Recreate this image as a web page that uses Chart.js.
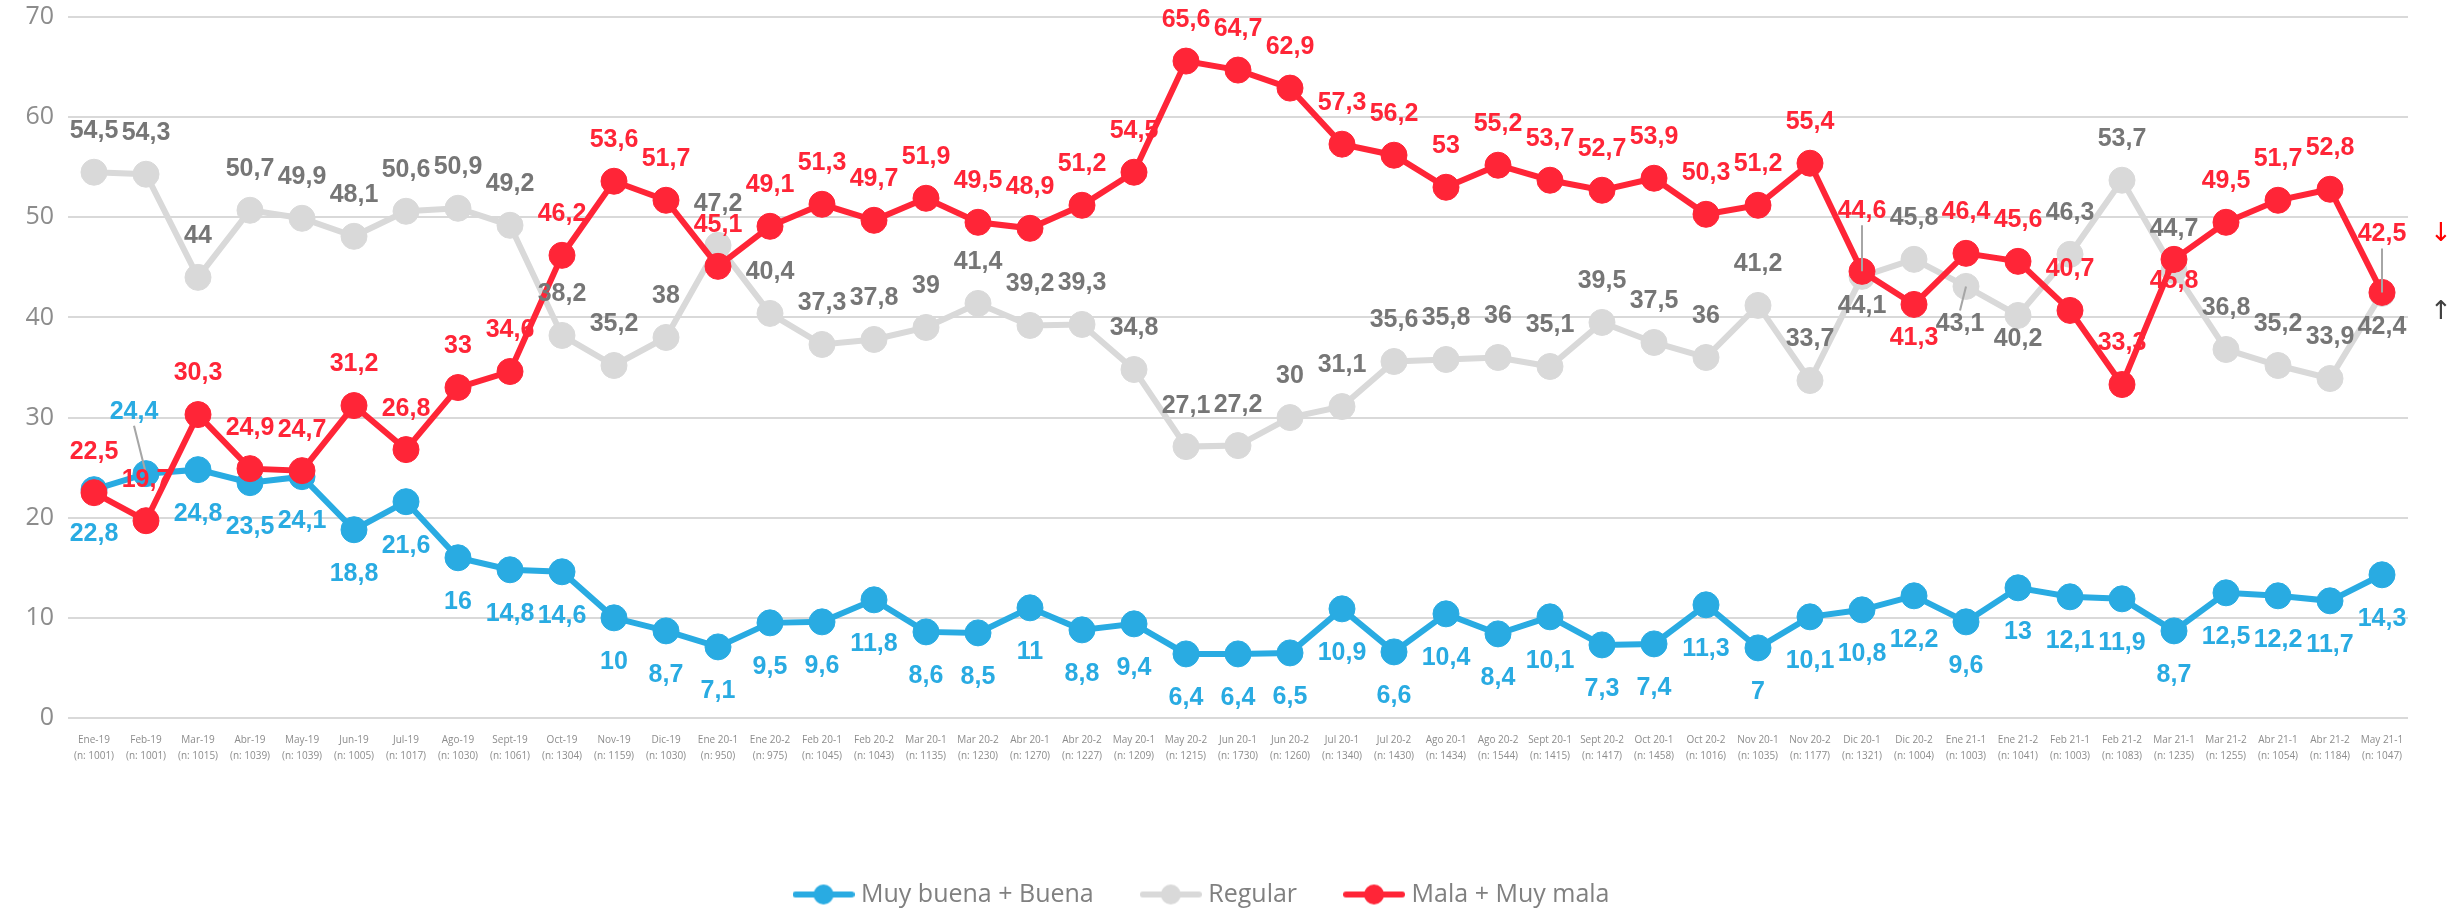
<!DOCTYPE html>
<html>
<head>
<meta charset="utf-8">
<script src="https://cdn.jsdelivr.net/npm/chart.js@4.4.1/dist/chart.umd.min.js"></script>
<style>
  html, body { margin: 0; padding: 0; background: #fff; }
  #wrap { width: 2458px; height: 909px; position: relative; }
</style>
</head>
<body>
<div id="wrap"><canvas id="chart"></canvas></div>
<script>
var months = ['Ene-19', 'Feb-19', 'Mar-19', 'Abr-19', 'May-19', 'Jun-19', 'Jul-19', 'Ago-19', 'Sept-19', 'Oct-19',
  'Nov-19', 'Dic-19', 'Ene 20-1', 'Ene 20-2', 'Feb 20-1', 'Feb 20-2', 'Mar 20-1', 'Mar 20-2', 'Abr 20-1', 'Abr 20-2',
  'May 20-1', 'May 20-2', 'Jun 20-1', 'Jun 20-2', 'Jul 20-1', 'Jul 20-2', 'Ago 20-1', 'Ago 20-2', 'Sept 20-1', 'Sept 20-2',
  'Oct 20-1', 'Oct 20-2', 'Nov 20-1', 'Nov 20-2', 'Dic 20-1', 'Dic 20-2', 'Ene 21-1', 'Ene 21-2', 'Feb 21-1', 'Feb 21-2',
  'Mar 21-1', 'Mar 21-2', 'Abr 21-1', 'Abr 21-2', 'May 21-1'];
var samples = [1001, 1001, 1015, 1039, 1039, 1005, 1017, 1030, 1061, 1304,
  1159, 1030, 950, 975, 1045, 1043, 1135, 1230, 1270, 1227,
  1209, 1215, 1730, 1260, 1340, 1430, 1434, 1544, 1415, 1417,
  1458, 1016, 1035, 1177, 1321, 1004, 1003, 1041, 1003, 1083,
  1235, 1255, 1054, 1184, 1047];

var buenaValues = [22.8, 24.4, 24.8, 23.5, 24.1, 18.8, 21.6, 16, 14.8, 14.6,
  10, 8.7, 7.1, 9.5, 9.6, 11.8, 8.6, 8.5, 11, 8.8,
  9.4, 6.4, 6.4, 6.5, 10.9, 6.6, 10.4, 8.4, 10.1, 7.3,
  7.4, 11.3, 7, 10.1, 10.8, 12.2, 9.6, 13, 12.1, 11.9,
  8.7, 12.5, 12.2, 11.7, 14.3];
var regularValues = [54.5, 54.3, 44, 50.7, 49.9, 48.1, 50.6, 50.9, 49.2, 38.2,
  35.2, 38, 47.2, 40.4, 37.3, 37.8, 39, 41.4, 39.2, 39.3,
  34.8, 27.1, 27.2, 30, 31.1, 35.6, 35.8, 36, 35.1, 39.5,
  37.5, 36, 41.2, 33.7, 44.1, 45.8, 43.1, 40.2, 46.3, 53.7,
  44.7, 36.8, 35.2, 33.9, 42.4];
var malaValues = [22.5, 19.7, 30.3, 24.9, 24.7, 31.2, 26.8, 33, 34.6, 46.2,
  53.6, 51.7, 45.1, 49.1, 51.3, 49.7, 51.9, 49.5, 48.9, 51.2,
  54.5, 65.6, 64.7, 62.9, 57.3, 56.2, 53, 55.2, 53.7, 52.7,
  53.9, 50.3, 51.2, 55.4, 44.6, 41.3, 46.4, 45.6, 40.7, 33.3,
  45.8, 49.5, 51.7, 52.8, 42.5];

var seriesNames = ['Muy buena + Buena', 'Regular', 'Mala + Muy mala'];
var yMin = 0, yMax = 70, yStep = 10;

var BLUE = '#29ABE2';
var GREY = '#D9D9D9';
var GREY_TEXT = '#767676';
var RED = '#FF2537';

// label offsets (px from point centre), only where Excel moved a label
var labelDefaults = [44, -41, -41];
var labelMoves = [
  { 1: { dx: -12, dy: -62, leader: true } },
  { 34: { dy: 30 }, 36: { dx: -6, dy: 38, leader: true }, 37: { dy: 24 }, 44: { dy: 34 } },
  { 34: { dy: -60, leader: true }, 35: { dy: 34 }, 40: { dy: 22 }, 44: { dy: -58, leader: true } }
];

var padBottom = -8;

function legendMark(color) {
  var c = document.createElement('canvas');
  c.width = 62;
  c.height = 24;
  var g = c.getContext('2d');
  g.strokeStyle = color;
  g.lineWidth = 6;
  g.lineCap = 'round';
  g.beginPath();
  g.moveTo(3, 12);
  g.lineTo(59, 12);
  g.stroke();
  g.fillStyle = color;
  g.beginPath();
  g.arc(31, 12, 10, 0, Math.PI * 2);
  g.fill();
  return c;
}

var pointLabels = {
  id: 'pointLabels',
  afterDatasetsDraw: function (chart) {
    var ctx = chart.ctx;
    ctx.save();
    ctx.font = 'bold 25px "Liberation Sans"';
    ctx.textAlign = 'center';
    ctx.textBaseline = 'middle';
    chart.data.datasets.forEach(function (ds, di) {
      var meta = chart.getDatasetMeta(di);
      meta.data.forEach(function (pt, i) {
        var mv = labelMoves[di][i] || {};
        var dx = mv.dx || 0;
        var dy = mv.dy !== undefined ? mv.dy : labelDefaults[di];
        var x = pt.x + dx;
        var y = pt.y + dy;
        if (mv.leader) {
          ctx.strokeStyle = '#A6A6A6';
          ctx.lineWidth = 2;
          ctx.beginPath();
          ctx.moveTo(x, y + (dy < 0 ? 14 : -14));
          ctx.lineTo(pt.x, pt.y);
          ctx.stroke();
        }
        ctx.fillStyle = ds.labelColor;
        ctx.fillText(String(ds.data[i]).replace('.', ','), x, y);
      });
    });
    ctx.restore();
  }
};

var sideArrows = {
  id: 'sideArrows',
  afterDraw: function (chart) {
    var ctx = chart.ctx;
    var area = chart.chartArea;
    var yScale = chart.scales.y;
    var last = malaValues.length - 1;
    ctx.save();
    ctx.font = '26px "DejaVu Sans"';
    ctx.textAlign = 'center';
    ctx.textBaseline = 'middle';
    ctx.fillStyle = '#FF0000';
    ctx.fillText('\u2193', area.right + 33, yScale.getPixelForValue(malaValues[last]) - 58);
    ctx.fillStyle = '#404040';
    ctx.fillText('\u2191', area.right + 33, yScale.getPixelForValue(regularValues[last]) + 19);
    ctx.restore();
  }
};

var xLabels = [];
for (var i = 0; i < months.length; i++) {
  xLabels.push([months[i], '(n: ' + samples[i] + ')']);
}

function lineSet(name, values, color, labelColor, order) {
  return {
    label: name,
    data: values,
    borderColor: color,
    backgroundColor: color,
    pointBackgroundColor: color,
    pointBorderColor: color,
    borderWidth: 6,
    pointRadius: 13,
    pointHoverRadius: 13,
    pointBorderWidth: 1,
    tension: 0,
    order: order,
    labelColor: labelColor,
    legendMark: legendMark(color)
  };
}

var chart = new Chart(document.getElementById('chart'), {
  type: 'line',
  data: {
    labels: xLabels,
    datasets: [
      lineSet(seriesNames[0], buenaValues, BLUE, BLUE, 2),
      lineSet(seriesNames[1], regularValues, GREY, GREY_TEXT, 1),
      lineSet(seriesNames[2], malaValues, RED, RED, 0)
    ]
  },
  options: {
    responsive: true,
    maintainAspectRatio: false,
    animation: false,
    layout: { padding: { top: 17, right: 50, bottom: padBottom, left: 0 } },
    plugins: {
      tooltip: { enabled: false },
      legend: {
        position: 'bottom',
        labels: {
          usePointStyle: true,
          pointStyleWidth: 50,
          padding: 52,
          color: '#808080',
          font: { family: '"Open Sans"', size: 25 },
          sort: function (a, b) { return a.datasetIndex - b.datasetIndex; },
          generateLabels: function (ch) {
            var items = Chart.defaults.plugins.legend.labels.generateLabels(ch);
            items.forEach(function (it) {
              it.pointStyle = ch.data.datasets[it.datasetIndex].legendMark;
              it.fontColor = '#808080';
            });
            return items;
          }
        }
      }
    },
    scales: {
      x: {
        offset: true,
        grid: { display: false },
        border: { display: false },
        ticks: {
          autoSkip: false,
          maxRotation: 0,
          minRotation: 0,
          padding: 6,
          color: '#8C8C8C',
          font: { family: '"Open Sans"', size: 10, lineHeight: 1.6 }
        },
        afterFit: function (scale) {
          scale.height = scale.chart.height - 718 - scale.chart.legend.height - padBottom;
        }
      },
      y: {
        min: yMin,
        max: yMax,
        border: { display: false },
        grid: { color: GREY, lineWidth: 2, drawTicks: false },
        ticks: {
          stepSize: yStep,
          padding: 14,
          color: '#8C8C8C',
          font: { family: '"Open Sans"', size: 25 }
        },
        afterFit: function (scale) {
          scale.width = 68;
          scale.paddingTop = 0;
          scale.paddingBottom = 0;
        }
      }
    }
  },
  plugins: [pointLabels, sideArrows]
});
</script>
</body>
</html>
